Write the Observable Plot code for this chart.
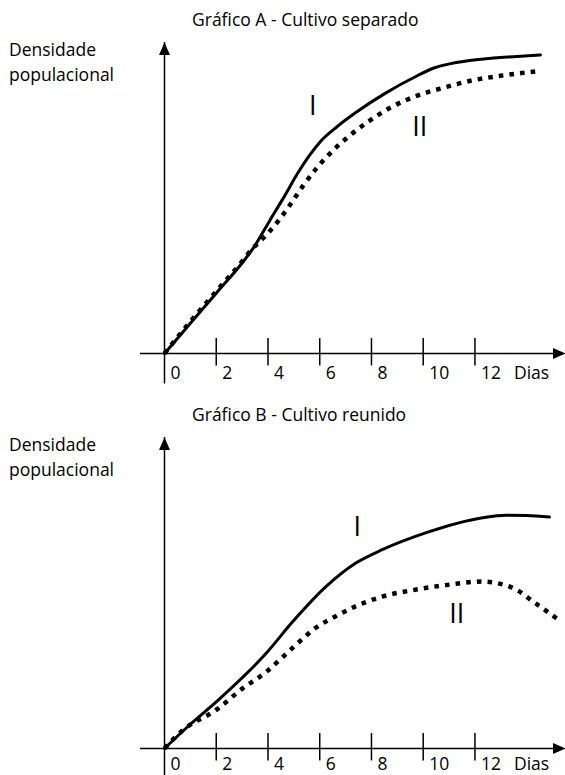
<!DOCTYPE html>
<html>
<head>
<meta charset="utf-8">
<script src="https://cdn.jsdelivr.net/npm/d3@7"></script>
<script src="https://cdn.jsdelivr.net/npm/@observablehq/plot@0.6"></script>
<style>
  html, body { margin: 0; padding: 0; background: #fff; overflow: hidden; width: 565px; height: 775px; }
  .panel { position: relative; width: 565px; height: 395px; }
  .panel.b { height: 380px; }
  .title { position: absolute; left: 192px; top: 7px; font-family: "Open Sans"; font-size: 17.5px; line-height: 25px; white-space: nowrap; color: #000; }
  .ylabel { position: absolute; left: 9px; top: 37px; font-family: "Open Sans"; font-size: 17.5px; line-height: 25px; color: #000; }
  .panel svg { position: absolute; left: 0; top: 30px; }
</style>
</head>
<body>
<div id="root"></div>
<script>
// ---- Data ----
const titles = ["Gráfico A - Cultivo separado", "Gráfico B - Cultivo reunido"];
const yLabelLines = ["Densidade", "populacional"];
const tickDays = [0, 2, 4, 6, 8, 10, 12];
const tickLabels = ["0", "2", "4", "6", "8", "10", "12"];
const unitLabel = "Dias";
const seriesNames = ["I", "II"];

// Gráfico A - Cultivo separado
const aDaysI = [0, 1, 2, 3, 3.45, 4.10, 4.61, 5.13, 5.64, 6.03, 6.68, 7.45, 8.48, 9.77, 10.41, 11.06, 12.34, 13.63, 14.53];
const aValI  = [0, 9.7, 19.4, 29.1, 34.1, 43.2, 50.2, 57.7, 64.1, 68.2, 73.0, 77.8, 83.4, 89.3, 91.8, 93.2, 94.7, 95.5, 96.0];
const aDaysII = [0, 1, 2, 3, 3.32, 3.84, 4.36, 4.87, 5.38, 5.90, 6.54, 7.19, 7.83, 8.74, 9.77, 10.8, 11.83, 12.99, 14.53];
const aValII  = [0, 10.3, 20.0, 29.6, 33.0, 37.3, 42.2, 48.0, 54.2, 59.8, 65.5, 70.3, 74.3, 79.1, 82.9, 85.5, 87.7, 89.3, 90.9];
const aLabelDays = [5.73, 9.87];
const aLabelVals = [79.6, 72.7];

// Gráfico B - Cultivo reunido
const bDaysI = [0, 1, 2, 3.93, 4.96, 6.25, 7.41, 8.44, 10.12, 12.3, 13.21, 14.0, 14.88];
const bValI  = [0, 7.8, 15.0, 30.6, 40.8, 52.1, 59.7, 64.0, 69.4, 74.2, 75.0, 74.9, 74.4];
const bDaysII = [0, 0.71, 2.0, 3.03, 3.93, 4.57, 5.22, 5.86, 6.64, 7.41, 8.44, 9.73, 11.02, 12.3, 12.95, 13.6, 14.24, 14.88, 15.33];
const bValII  = [0, 5.9, 12.4, 19.4, 24.6, 29.4, 34.4, 38.9, 42.6, 45.8, 48.9, 51.1, 52.7, 53.7, 53.0, 51.1, 47.3, 43.5, 40.8];
const bLabelDays = [7.45, 11.3];
const bLabelVals = [71.0, 43.0];

// ---- Axis geometry (in data units) ----
const xDomain = [0, 15.5];
const yDomain = [0, 100];
const xAxisStart = -0.93;
const yAxisBelow = -9.8;
const tickLow = -4.0, tickHigh = 4.8;

const zip = (xs, ys) => xs.map((x, i) => ({x, y: ys[i]}));

const arrowHead = {
  draw(context) {
    context.moveTo(0, 0);
    context.lineTo(-5.5, 12.5);
    context.lineTo(5.5, 12.5);
    context.closePath();
  }
};

function makeChart(solid, dotted, labels, svgHeight, labelDy) {
  return Plot.plot({
    width: 565,
    height: svgHeight,
    marginLeft: 164,
    marginRight: 0,
    marginTop: 12,
    marginBottom: svgHeight - 323,
    x: {domain: xDomain, axis: null},
    y: {domain: yDomain, axis: null},
    style: {fontFamily: "Open Sans", color: "#000", background: "transparent", overflow: "visible"},
    marks: [
      Plot.ruleX([0], {y1: yAxisBelow, y2: yDomain[1], stroke: "#000", strokeWidth: 1.5}),
      Plot.ruleY([0], {x1: xAxisStart, x2: xDomain[1] - 0.2, stroke: "#000", strokeWidth: 1.5}),
      Plot.ruleX(tickDays.slice(1), {y1: tickLow, y2: tickHigh, stroke: "#000", strokeWidth: 1.5}),
      Plot.dot([{x: 0, y: yDomain[1]}], {x: "x", y: "y", symbol: arrowHead, fill: "#000", stroke: "none"}),
      Plot.dot([{x: xDomain[1], y: 0}], {x: "x", y: "y", symbol: arrowHead, fill: "#000", stroke: "none", rotate: 90}),
      Plot.text(tickDays, {x: d => d, y: 0, text: (d, i) => tickLabels[i], textAnchor: "start", lineAnchor: "bottom", dx: 6, dy: labelDy, fontSize: 17.5, fill: "#000"}),
      Plot.text([unitLabel], {x: tickDays[tickDays.length - 1], y: 0, text: d => d, textAnchor: "start", lineAnchor: "bottom", dx: 39, dy: labelDy, fontSize: 17.5, fill: "#000"}),
      Plot.line(solid, {x: "x", y: "y", curve: "monotone-x", stroke: "#000", strokeWidth: 3}),
      Plot.line(dotted, {x: "x", y: "y", curve: "monotone-x", stroke: "#000", strokeWidth: 4.5, strokeDasharray: "4.6,6.1", strokeLinecap: "butt"}),
      Plot.text(labels, {x: "x", y: "y", text: "t", fontSize: 27, fill: "#000"})
    ]
  });
}

const root = document.getElementById("root");
const panels = [
  {cls: "a", title: titles[0], solid: zip(aDaysI, aValI), dotted: zip(aDaysII, aValII),
   labels: seriesNames.map((t, i) => ({t, x: aLabelDays[i], y: aLabelVals[i]})), h: 365, dy: 25.6},
  {cls: "b", title: titles[1], solid: zip(bDaysI, bValI), dotted: zip(bDaysII, bValII),
   labels: seriesNames.map((t, i) => ({t, x: bLabelDays[i], y: bLabelVals[i]})), h: 350, dy: 21.5}
];
for (const p of panels) {
  const div = document.createElement("div");
  div.className = "panel " + p.cls;
  const chart = makeChart(p.solid, p.dotted, p.labels, p.h, p.dy);
  div.appendChild(chart);
  const t = document.createElement("div");
  t.className = "title";
  t.textContent = p.title;
  div.appendChild(t);
  const yl = document.createElement("div");
  yl.className = "ylabel";
  yl.innerHTML = yLabelLines.join("<br>");
  div.appendChild(yl);
  root.appendChild(div);
}
</script>
</body>
</html>
